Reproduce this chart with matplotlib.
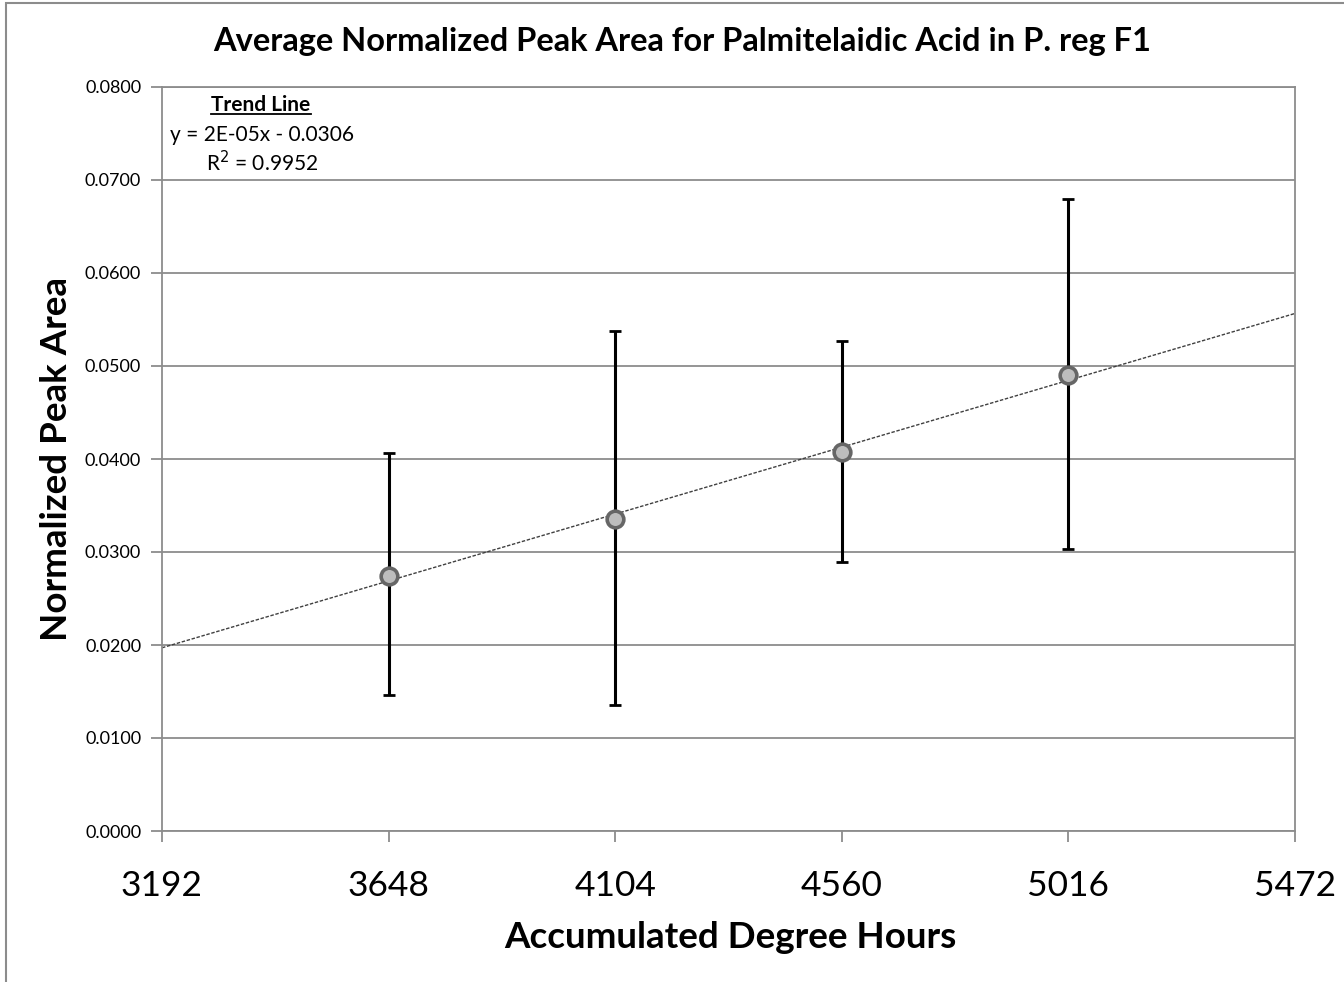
import numpy as np
import matplotlib
matplotlib.use('Agg')
import matplotlib.pyplot as plt
from matplotlib.patches import Rectangle
from matplotlib.lines import Line2D

# data
degree_hours = [3648, 4104, 4560, 5016]
peak_area = [0.0274, 0.0336, 0.0407, 0.0490]
err_upper = [0.0406, 0.0538, 0.0527, 0.0680]
err_lower = [0.0146, 0.0136, 0.0289, 0.0303]
x_ticks = [3192, 3648, 4104, 4560, 5016, 5472]
y_ticks = [0.0, 0.01, 0.02, 0.03, 0.04, 0.05, 0.06, 0.07, 0.08]

plt.rcParams['font.family'] = ['Lato', 'DejaVu Sans']

fig = plt.figure(figsize=(13.44, 9.82), dpi=100)
ax = fig.add_axes([162 / 1344, 151 / 982, 1133 / 1344, 744 / 982])

# outer chart frame
fig.patches.append(Rectangle((6 / 1344, -0.01), 1.1, 1 - 3 / 982 + 0.01, transform=fig.transFigure,
                             fill=False, edgecolor='#8c8c8c', linewidth=1.5))

x = np.array(degree_hours)
y = np.array(peak_area)
yerr = [y - np.array(err_lower), np.array(err_upper) - y]

# trend line (linear fit over the means)
slope, intercept = np.polyfit(x, y, 1)
xl = np.array([x_ticks[0], x_ticks[-1]])
ax.plot(xl, slope * xl + intercept, color='#404040', linestyle=(0, (2.5, 1.2)), linewidth=1, zorder=2)

ax.errorbar(x, y, yerr=yerr, fmt='none', ecolor='black', elinewidth=2.2, capsize=4, capthick=2, zorder=3)
ax.plot(x, y, 'o', markersize=12, markerfacecolor='#bdbdbd', markeredgecolor='#666666',
        markeredgewidth=2.6, zorder=4)

ax.set_xlim(x_ticks[0], x_ticks[-1])
ax.set_ylim(y_ticks[0], y_ticks[-1])
ax.set_xticks(x_ticks)
ax.set_yticks(y_ticks)
ax.set_yticklabels([f'{v:.4f}' for v in y_ticks], fontsize=13)
ax.set_xticklabels([str(v) for v in x_ticks], fontsize=25.5)
ax.tick_params(axis='both', colors='#8c8c8c', labelcolor='black', length=8, width=1.3, direction='out')
ax.tick_params(axis='x', pad=20)
ax.tick_params(axis='y', pad=7)
ax.grid(axis='y', color='#8c8c8c', linewidth=1.3)
ax.set_axisbelow(True)
for s in ax.spines.values():
    s.set_color('#8c8c8c')
    s.set_linewidth(1.3)

fig.text(682 / 1344, 1 - 42 / 982, 'Average Normalized Peak Area for Palmitelaidic Acid in P. reg F1',
         ha='center', va='center', fontsize=23.5, fontweight='bold')
fig.text(57 / 1344, 1 - 459 / 982, 'Normalized Peak Area', rotation=90, ha='center', va='center',
         fontsize=26.5, fontweight='bold')
fig.text(730 / 1344, 1 - 937 / 982, 'Accumulated Degree Hours', ha='center', va='center',
         fontsize=26.5, fontweight='bold')

# trend line annotation
t = fig.text(261 / 1344, 1 - 105 / 982, 'Trend Line', ha='center', va='center', fontsize=15, fontweight='bold')
fig.text(262 / 1344, 1 - 135 / 982, 'y = 2E-05x - 0.0306', ha='center', va='center', fontsize=15)
fig.text(262 / 1344, 1 - 163 / 982, 'R$^2$ = 0.9952', ha='center', va='center', fontsize=15)
fig.canvas.draw()
bb = t.get_window_extent().transformed(fig.transFigure.inverted())
fig.lines.append(Line2D([bb.x0, bb.x1], [bb.y0 + 0.001, bb.y0 + 0.001], transform=fig.transFigure,
                        color='black', linewidth=1.3))

fig.savefig('out.png', dpi=100)
